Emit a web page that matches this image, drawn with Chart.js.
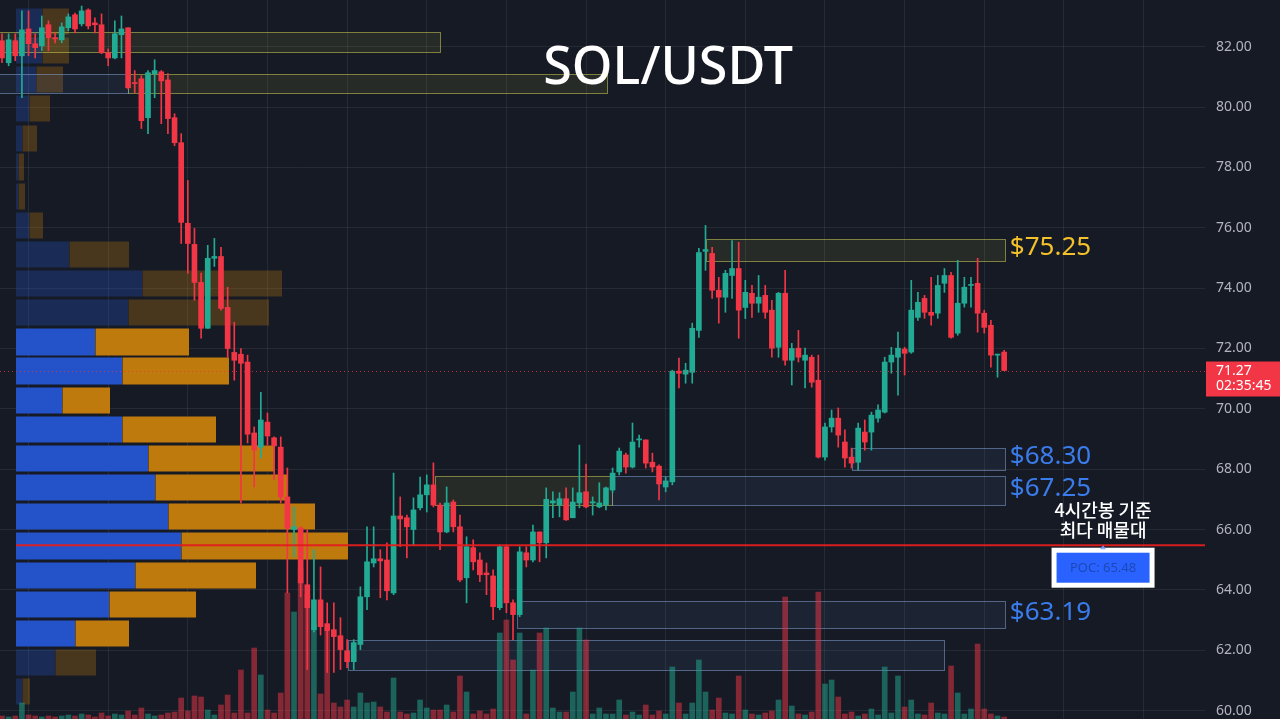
<!DOCTYPE html>
<html><head><meta charset="utf-8">
<script src="https://cdn.jsdelivr.net/npm/chart.js@4.4.1/dist/chart.umd.min.js"></script>
<style>html,body{margin:0;padding:0;background:#161a25;overflow:hidden}#wrap{width:1280px;height:719px;position:relative}</style>
</head><body><div id="wrap"><canvas id="c"></canvas></div>
<script>
// ---- candles (4h) ----
const candleIdx = Array.from({length:152},(_,i)=>i);
const opens = [82.20,81.47,82.20,81.70,82.59,82.10,82.03,82.73,82.30,82.23, 82.63,83.06,82.76,83.22,82.79,82.73,81.80,81.63,82.40,82.63, 80.81,80.94,79.65,81.11,81.17,80.90,79.65,78.82,76.15,75.45, 74.19,72.67,74.99,75.05,73.36,71.87,71.81,71.55,69.20,68.73, 69.56,69.04,68.73,67.08,66.00,66.05,64.17,62.68,63.67,62.88, 62.68,62.48,61.98,61.62,62.19,63.77,64.89,65.03,64.99,63.90, 66.45,66.39,66.00,66.72,67.15,67.48,66.81,65.92,66.91,66.09, 64.40,65.40,64.99,64.56,64.46,63.41,65.43,63.57,63.18,65.23, 64.99,65.92,65.56,66.88,66.81,67.02,66.39,66.88,67.25,66.88, 66.75,66.81,67.31,67.91,68.47,68.07,68.97,68.97,68.23,68.10, 67.41,67.58,71.25,71.15,71.21,72.60,75.22,75.15,73.93,73.70, 74.42,74.65,73.36,73.83,73.50,73.76,73.27,72.04,73.83,71.61, 72.01,71.61,71.71,70.95,68.40,69.40,69.69,68.90,68.40,68.23, 69.23,69.23,69.69,69.89,71.55,71.71,71.98,71.88,73.03,73.66, 73.20,73.17,74.16,74.42,72.51,73.50,74.09,74.16,73.17,72.77, 71.78,71.88];
const highs = [82.43,82.43,82.43,83.19,83.19,82.43,83.02,82.86,82.46,82.79, 83.09,83.12,83.35,83.26,82.96,83.09,81.93,82.86,83.02,82.63, 81.21,81.04,81.21,81.57,81.21,81.11,79.78,79.12,77.57,75.98, 74.50,75.42,75.65,75.35,74.03,72.87,72.00,71.78,69.40,70.55, 69.86,69.07,69.07,68.04,66.75,66.09,65.99,65.33,64.76,63.57, 63.57,63.08,62.35,62.35,64.10,66.09,66.09,65.33,65.56,67.87, 67.08,66.48,67.05,67.74,67.81,68.21,66.88,67.41,66.98,66.48, 65.76,65.66,65.23,64.89,64.66,65.49,65.49,63.67,65.43,65.43, 66.15,65.92,67.38,67.25,67.22,67.38,67.38,68.80,68.17,67.08, 67.55,67.41,68.04,68.70,68.53,69.53,69.13,68.97,68.53,68.14, 67.74,71.28,71.68,71.51,72.84,75.32,76.08,75.35,74.36,74.59, 75.58,75.52,74.26,74.09,74.42,74.09,73.60,73.86,74.59,72.17, 72.60,72.01,71.78,71.78,69.53,69.96,70.03,69.30,68.70,69.53, 69.63,69.89,70.13,71.71,72.04,72.54,72.04,74.26,73.86,73.76, 74.36,74.42,74.65,74.52,74.92,74.36,74.36,74.99,73.27,72.93, 71.81,71.94];
const lows = [81.47,81.37,81.54,80.31,81.70,81.63,81.87,81.87,82.13,82.13, 82.53,82.46,82.69,82.59,82.46,81.77,81.37,81.60,81.63,80.60, 80.48,79.29,79.12,80.31,79.45,79.12,78.72,75.48,74.49,73.60, 72.34,72.67,74.72,73.27,71.71,70.95,66.88,68.87,67.41,68.37, 68.80,67.64,66.88,63.90,65.09,63.77,61.36,62.61,62.50,61.26, 61.26,61.36,61.42,61.36,62.02,63.34,64.76,63.74,63.67,63.84, 65.43,65.06,65.49,66.65,66.58,66.75,65.33,65.89,65.92,64.27, 63.57,64.66,64.27,63.84,63.01,63.34,63.24,62.35,63.11,64.76, 64.93,64.93,65.06,66.39,66.42,66.30,66.39,66.72,66.72,66.48, 66.72,66.65,67.22,67.81,67.87,68.04,68.73,68.04,67.91,66.98, 67.25,67.48,70.69,70.85,70.85,72.37,74.59,73.66,72.84,73.20, 73.66,72.34,72.99,73.03,73.20,73.00,71.71,71.71,71.45,70.79, 71.55,70.69,70.72,68.37,68.30,69.23,68.73,68.07,68.04,67.97, 68.63,68.63,69.56,69.86,71.18,70.45,71.12,71.84,72.93,73.00, 72.77,73.00,73.86,72.34,72.44,73.37,73.37,72.54,72.51,71.38, 71.05,71.27];
const closes = [81.63,82.23,81.70,82.56,82.10,81.97,82.63,82.30,82.26,82.66, 82.99,82.59,83.19,82.69,82.73,81.80,81.63,82.43,82.59,80.64, 80.78,79.55,81.14,81.21,80.87,79.62,78.82,76.18,75.48,74.19, 72.67,74.99,75.05,73.33,72.00,71.61,71.51,69.16,68.64,69.63, 69.10,68.77,67.08,66.05,66.09,64.23,63.41,63.67,62.78,62.65, 62.45,62.02,61.62,62.25,63.77,64.93,65.03,64.96,63.97,66.45, 66.35,66.09,66.65,67.15,67.48,66.81,65.92,66.88,66.09,64.33, 65.43,64.93,64.50,64.50,63.44,65.43,63.57,63.18,65.26,64.99, 65.92,65.56,67.00,66.95,67.02,66.32,66.91,67.22,66.75,66.92, 66.88,67.38,67.87,68.60,68.07,68.90,69.00,68.20,68.07,67.51, 67.61,71.25,71.18,71.28,72.67,75.18,75.28,73.93,73.70,74.49, 74.65,73.27,73.86,73.50,73.70,73.20,72.01,73.83,71.61,72.00, 71.71,71.78,70.88,68.40,69.40,69.69,69.13,68.37,68.20,69.36, 68.90,69.79,69.96,71.55,71.78,72.01,71.84,73.27,73.53,73.20, 73.10,74.09,74.42,72.37,73.50,74.03,74.12,73.17,72.70,71.78, 71.81,71.27];
const volumes = [3,2,3,16,4,3,2,3,2,3, 4,3,5,4,2,6,3,5,4,8, 4,11,5,3,4,6,7,21,8,23, 22,9,4,14,24,6,49,6,71,44, 9,6,26,126,107,150,125,95,25,89, 16,12,19,12,26,16,17,12,7,41, 7,5,6,19,11,9,9,14,7,43, 27,5,8,5,10,86,99,59,86,5, 49,86,91,11,7,7,27,91,79,5, 11,5,5,19,4,7,4,14,4,8, 5,52,16,5,16,59,27,9,21,6, 5,43,9,5,4,6,8,19,122,13, 5,4,7,127,35,39,22,5,7,3, 5,10,4,52,6,43,12,19,5,4, 16,6,5,53,26,5,10,75,10,5, 3,2];

// ---- volume profile (price bins, buy / sell volume) ----
const vpBinLow = [60.14,61.11,62.07,63.04,64.00,64.97,65.94,66.90,67.87,68.83,69.80,70.77,71.73,72.70,73.66,74.63,75.60,76.56,77.53,78.49,79.46,80.43,81.39,82.36];
const vpBinSize = 0.966;
const vpBuy  = [6,39,59,93,119,165,152,139,132,106,46,106,79,112,126,53,13,2,2,6,13,20,26,26];
const vpSell = [8,41,54,87,121,167,147,133,127,94,48,107,94,141,140,60,14,7,6,15,21,27,27,27];
const valueAreaLow = 62.07, valueAreaHigh = 72.70;
const pocPrice = 65.48;
const lastPrice = 71.27, countdown = '02:35:45';

// ---- zones ----
const zoneTop    = [82.50, 81.11, 81.11, 75.64, 68.71, 67.76, 67.76, 63.62, 62.33];
const zoneBottom = [81.84, 80.48, 80.48, 74.90, 67.97, 66.82, 66.82, 62.74, 61.36];
const zoneFrom   = [-1, 19, -1, 106.1, 128.1, 65.2, 91.9, 77.6, 52.1];
const zoneTo     = [66, 91.2, 19, 151.1, 151.1, 91.9, 151.1, 151.1, 142];
const zoneKind   = ['res','res','sup','res','sup','res','sup','sup','sup'];
const zoneLabel  = ['','','','$75.25','$68.30','','$67.25','$63.19',''];

const yTicks = [60,62,64,66,68,70,72,74,76,78,80,82];
const gridIdx = [4,16,28,40,52,64,76,88,100,112,124,136,148,160,172];

const BG = '#161a25', UP = '#22ab94', DOWN = '#f23645';
const GRID = 'rgba(255,255,255,0.07)';

const cols = candleIdx.map(i => closes[i] >= opens[i] ? UP : DOWN);
const volCols = candleIdx.map(i => closes[i] >= opens[i] ? 'rgba(34,171,148,0.5)' : 'rgba(242,54,69,0.5)');

const overlay = {
  id: 'overlay',
  beforeDraw(chart) {
    const {ctx, width, height} = chart;
    ctx.save(); ctx.fillStyle = BG; ctx.fillRect(0, 0, width, height); ctx.restore();
  },
  beforeDatasetsDraw(chart) {
    const {ctx, chartArea: ca, scales: {x, y, xVP}} = chart;
    ctx.save();
    ctx.beginPath(); ctx.rect(ca.left, ca.top, ca.width, ca.height); ctx.clip();
    // volume profile
    vpBinLow.forEach((lo, k) => {
      const top = Math.round(y.getPixelForValue(lo + vpBinSize)) + 1.5;
      const bot = Math.round(y.getPixelForValue(lo)) - 1.5;
      const inVA = lo >= valueAreaLow - 1e-6 && lo < valueAreaHigh - 1e-6;
      const x0 = xVP.getPixelForValue(0), x1 = xVP.getPixelForValue(vpBuy[k]), x2 = xVP.getPixelForValue(vpBuy[k] + vpSell[k]);
      ctx.fillStyle = inVA ? '#2453c9' : 'rgba(36,83,201,0.30)';
      ctx.fillRect(x0, top, x1 - x0, bot - top);
      ctx.fillStyle = inVA ? '#bf7a0d' : 'rgba(191,122,13,0.30)';
      ctx.fillRect(x1 + 0.5, top, x2 - x1 - 0.5, bot - top);
    });
    // zones
    zoneTop.forEach((t, k) => {
      const x1 = Math.round(x.getPixelForValue(zoneFrom[k])) + 0.5, x2 = Math.round(x.getPixelForValue(zoneTo[k])) + 0.5;
      const y1 = Math.round(y.getPixelForValue(t)) + 0.5, y2 = Math.round(y.getPixelForValue(zoneBottom[k])) + 0.5;
      const res = zoneKind[k] === 'res';
      ctx.fillStyle = res ? 'rgba(200,200,70,0.10)' : 'rgba(80,120,180,0.11)';
      ctx.fillRect(x1, y1, x2 - x1, y2 - y1);
      ctx.strokeStyle = res ? 'rgba(205,205,80,0.55)' : 'rgba(130,160,210,0.55)';
      ctx.lineWidth = 1;
      ctx.strokeRect(x1, y1, x2 - x1, y2 - y1);
    });
    ctx.restore();
  },
  afterDatasetsDraw(chart) {
    const {ctx, chartArea: ca, scales: {x, y, xVP}} = chart;
    ctx.save();
    // POC line
    const yp = y.getPixelForValue(pocPrice);
    ctx.strokeStyle = 'rgba(225,30,30,0.95)'; ctx.lineWidth = 2;
    ctx.beginPath(); ctx.moveTo(xVP.getPixelForValue(0), yp); ctx.lineTo(ca.right, yp); ctx.stroke();
    // last price dotted line
    const yl = Math.round(y.getPixelForValue(lastPrice)) + 0.5;
    ctx.strokeStyle = 'rgba(242,54,69,0.75)'; ctx.lineWidth = 1; ctx.setLineDash([1, 3]);
    ctx.beginPath(); ctx.moveTo(ca.left, yl); ctx.lineTo(ca.right, yl); ctx.stroke();
    ctx.setLineDash([]);
    // zone labels
    ctx.font = '26px "Noto Sans"'; ctx.textBaseline = 'middle'; ctx.textAlign = 'left';
    zoneLabel.forEach((t, k) => {
      if (!t) return;
      const ym = y.getPixelForValue((zoneTop[k] + zoneBottom[k]) / 2) - 2;
      ctx.fillStyle = zoneKind[k] === 'res' ? '#f4c12a' : '#3b7cec';
      ctx.fillText(t, x.getPixelForValue(zoneTo[k]) + 5, ym);
    });
    // title
    ctx.fillStyle = '#ffffff'; ctx.textAlign = 'center';
    ctx.font = '500 52px "Noto Sans"';
    ctx.fillText('SOL/USDT', chart.width * 0.522, 69);
    // POC annotation
    const cx = x.getPixelForValue(165.9);
    ctx.font = '500 18px "Noto Sans CJK KR"'; ctx.fillStyle = '#ffffff';
    ctx.fillText('4시간봉 기준', cx, yp - 35);
    ctx.fillText('최다 매물대', cx, yp - 15);
    ctx.fillStyle = '#ffffff';
    ctx.fillRect(cx - 51.5, yp + 2.5, 103, 40);
    ctx.fillStyle = '#2962ff';
    ctx.fillRect(cx - 46.5, yp + 7.5, 93, 30);
    ctx.fillStyle = '#1d48b8'; ctx.font = '13px "Noto Sans"';
    ctx.fillText('POC: ' + pocPrice.toFixed(2), cx, yp + 23);
    ctx.fillStyle = 'rgba(120,160,255,0.9)';
    ctx.beginPath(); ctx.moveTo(cx - 3, yp + 4); ctx.lineTo(cx + 3, yp + 4); ctx.lineTo(cx, yp); ctx.closePath(); ctx.fill();
    ctx.restore();
  },
  afterDraw(chart) {
    const {ctx, chartArea: ca, scales: {y}} = chart;
    const yl = y.getPixelForValue(lastPrice);
    ctx.save();
    ctx.fillStyle = DOWN;
    ctx.fillRect(ca.right + 1, yl - 9, chart.width - ca.right - 1, 35);
    ctx.fillStyle = '#ffffff'; ctx.font = '14px "Noto Sans"'; ctx.textBaseline = 'middle'; ctx.textAlign = 'left';
    ctx.fillText(lastPrice.toFixed(2), ca.right + 11, yl + 1);
    ctx.fillText(countdown, ca.right + 11, yl + 16);
    ctx.restore();
  }
};

new Chart(document.getElementById('c'), {
  type: 'bar',
  data: {
    datasets: [
      { label: 'body', order: 1, data: candleIdx.map(i => ({x: i, y: [opens[i], closes[i]]})), backgroundColor: cols, barThickness: 5, minBarLength: 1, grouped: false, yAxisID: 'y', xAxisID: 'x' },
      { label: 'wick', order: 2, data: candleIdx.map(i => ({x: i, y: [lows[i], highs[i]]})), backgroundColor: cols, barThickness: 1, grouped: false, yAxisID: 'y', xAxisID: 'x' },
      { label: 'volume', order: 3, data: candleIdx.map(i => ({x: i, y: volumes[i]})), backgroundColor: volCols, barThickness: 5, grouped: false, yAxisID: 'yVol', xAxisID: 'x' }
    ]
  },
  options: {
    responsive: true, maintainAspectRatio: false, animation: false,
    layout: { padding: 0 },
    plugins: { legend: { display: false }, tooltip: { enabled: false }, title: { display: false } },
    scales: {
      x: {
        type: 'linear', min: -0.3, max: 181.26, position: 'bottom', offset: false,
        afterBuildTicks: s => { s.ticks = gridIdx.map(v => ({value: v})); },
        afterFit: s => { s.height = 0; s.paddingLeft = 0; s.paddingRight = 0; },
        ticks: { display: false },
        grid: { color: GRID, drawTicks: false, offset: false }, border: { display: false }
      },
      xVP: {
        type: 'linear', axis: 'x', position: 'bottom', min: -16, max: 1189, offset: false, bounds: 'data', grace: 0,
        afterBuildTicks: s => { s.ticks = [{value: -16}, {value: 1189}]; },
        afterFit: s => { s.height = 0; s.paddingLeft = 0; s.paddingRight = 0; },
        ticks: { display: false }, grid: { display: false, drawTicks: false, offset: false }, border: { display: false }
      },
      y: {
        type: 'linear', position: 'right', min: 59.72, max: 83.55,
        afterBuildTicks: s => { s.ticks = yTicks.map(v => ({value: v})); },
        afterFit: s => { s.width = 75; s.paddingTop = 0; s.paddingBottom = 0; },
        ticks: { color: '#b2b5be', font: { family: 'Noto Sans', size: 14 }, padding: 11, callback: v => Number(v).toFixed(2) },
        grid: { color: GRID, drawTicks: false }, border: { display: false }
      },
      yVol: { type: 'linear', display: false, min: 0, max: 719 }
    }
  },
  plugins: [overlay]
});
</script></body></html>
